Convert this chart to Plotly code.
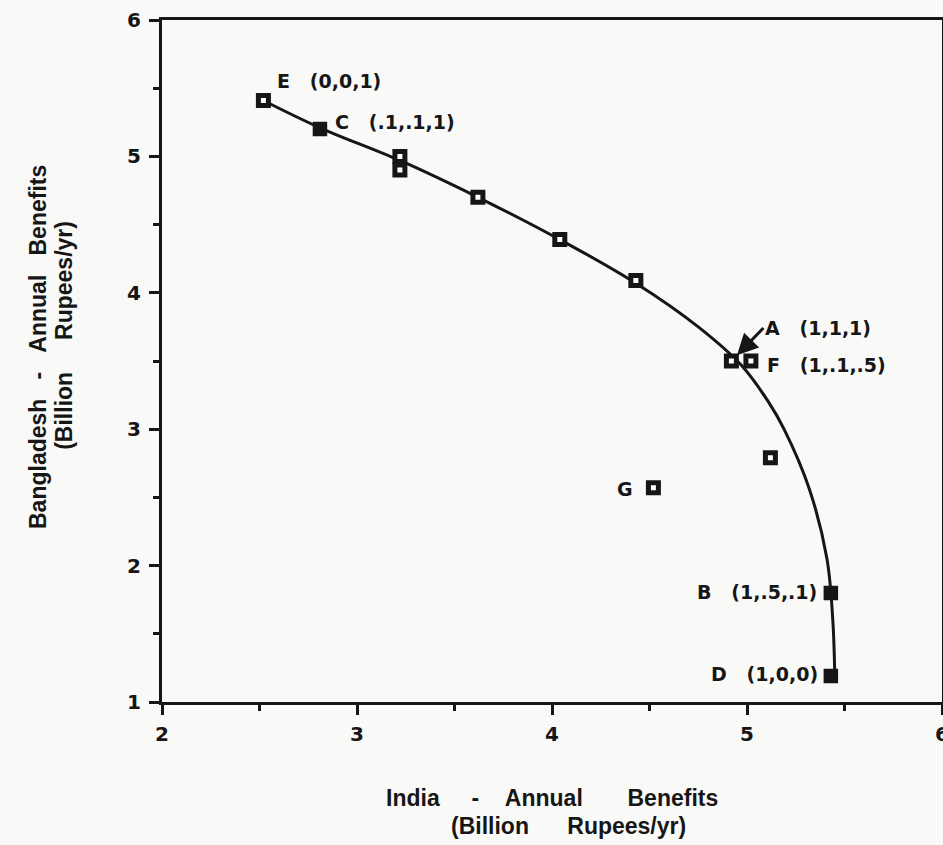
import plotly.graph_objects as go

# Frontier curve (India, Bangladesh benefits)
curve_x = [2.52, 2.81, 3.22, 3.62, 4.04, 4.43, 4.75, 4.97, 5.11, 5.19, 5.32, 5.41, 5.44, 5.45]
curve_y = [5.41, 5.21, 4.97, 4.70, 4.39, 4.07, 3.75, 3.47, 3.20, 3.00, 2.56, 2.05, 1.60, 1.20]

# Hollow points
open_x = [2.52, 3.22, 3.22, 3.62, 4.04, 4.43, 4.92, 5.02, 5.12, 4.52]
open_y = [5.41, 5.0, 4.9, 4.70, 4.39, 4.09, 3.50, 3.50, 2.79, 2.57]

# Filled points
fill_x = [2.81, 5.43, 5.43]
fill_y = [5.20, 1.80, 1.19]

# Labelled points
NB = "\u00a0"
lab_text = ["E" + NB * 3 + "(0,0,1)", "C" + NB * 3 + "(.1,.1,1)", "A" + NB * 3 + "(1,1,1)",
            "F" + NB * 3 + "(1,.1,.5)", "G", "B" + NB * 3 + "(1,.5,.1)", "D" + NB * 3 + "(1,0,0)"]
lab_x = [2.52, 2.81, 4.92, 5.02, 4.52, 5.43, 5.43]
lab_y = [5.41, 5.20, 3.50, 3.50, 2.57, 1.80, 1.19]

x_title_1 = "India" + NB * 5 + "-" + NB * 4 + "Annual" + NB * 7 + "Benefits"
x_title_2 = "(Billion" + NB * 6 + "Rupees/yr)"
y_title_1 = "Bangladesh" + NB * 3 + "-" + NB * 3 + "Annual" + NB * 3 + "Benefits"
y_title_2 = "(Billion" + NB * 5 + "Rupees/yr)"

FONT = "Liberation Sans"
LFONT = "DejaVu Sans"
INK = "#161616"
BG = "#f9f9f7"

fig = go.Figure()
fig.add_trace(go.Scatter(x=curve_x, y=curve_y, mode="lines",
                         line=dict(color=INK, width=3, shape="spline", smoothing=1.0),
                         hoverinfo="skip"))
fig.add_trace(go.Scatter(x=open_x, y=open_y, mode="markers",
                         marker=dict(symbol="square", size=10, color="white",
                                     line=dict(color=INK, width=5))))
fig.add_trace(go.Scatter(x=fill_x, y=fill_y, mode="markers",
                         marker=dict(symbol="square", size=13, color=INK,
                                     line=dict(color=INK, width=1.5))))

# label placement: (xshift, yshift, xanchor)
place = [(12, 19, "left"), (13, 7, "left"), (None, None, None), (14, -4, "left"),
         (-18, -1, "right"), (-12, 1, "right"), (-11, 2, "right")]
for t, x, y, p in zip(lab_text, lab_x, lab_y, place):
    if p[0] is None:
        continue
    fig.add_annotation(x=x, y=y, text="<b>" + t + "</b>", showarrow=False,
                       xshift=p[0], yshift=p[1], xanchor=p[2], yanchor="middle",
                       font=dict(family=LFONT, size=19, color=INK))

# A label with arrow
fig.add_annotation(x=lab_x[2], y=lab_y[2], text="<b>" + lab_text[2] + "</b>",
                   showarrow=True, arrowhead=2, arrowsize=1.4, arrowwidth=3,
                   arrowcolor=INK, ax=32, ay=-33, xanchor="left", yanchor="middle",
                   standoff=8,
                   font=dict(family=LFONT, size=19, color=INK))

# axis titles
for txt, px, py, ang in [(x_title_1, 0.5, -0.141, 0), (x_title_2, 0.521, -0.182, 0),
                         (y_title_1, -0.159, 0.5205, -90), (y_title_2, -0.126, 0.538, -90)]:
    fig.add_annotation(x=px, y=py, xref="paper", yref="paper", text="<b>" + txt + "</b>",
                       showarrow=False, xanchor="center", yanchor="middle", textangle=ang,
                       font=dict(family=FONT, size=23, color=INK))

fig.update_layout(
    width=943, height=845,
    margin=dict(l=162, r=1, t=20, b=143),
    paper_bgcolor=BG, plot_bgcolor=BG,
    showlegend=False,
)
fig.update_xaxes(range=[2, 6], dtick=1, showgrid=False, zeroline=False, automargin=False,
                 showline=True, linecolor=INK, linewidth=3, mirror=True,
                 ticks="outside", ticklen=10, tickwidth=3, tickcolor=INK,
                 minor=dict(ticks="outside", dtick=0.5, ticklen=6, tickwidth=2.5, tickcolor=INK),
                 tickfont=dict(family=LFONT, size=20, color=INK, weight="bold"),
                 ticklabelstandoff=2, ticklabeloverflow="allow")
fig.update_yaxes(range=[1, 6], dtick=1, showgrid=False, zeroline=False, automargin=False,
                 showline=True, linecolor=INK, linewidth=3, mirror=True,
                 ticks="outside", ticklen=10, tickwidth=3, tickcolor=INK,
                 minor=dict(ticks="outside", dtick=0.5, ticklen=6, tickwidth=2.5, tickcolor=INK),
                 tickfont=dict(family=LFONT, size=20, color=INK, weight="bold"),
                 ticklabelstandoff=4, ticklabeloverflow="allow")

fig.write_html("out.html", config={"displayModeBar": False},
               post_script="document.body.style.margin='0';")
